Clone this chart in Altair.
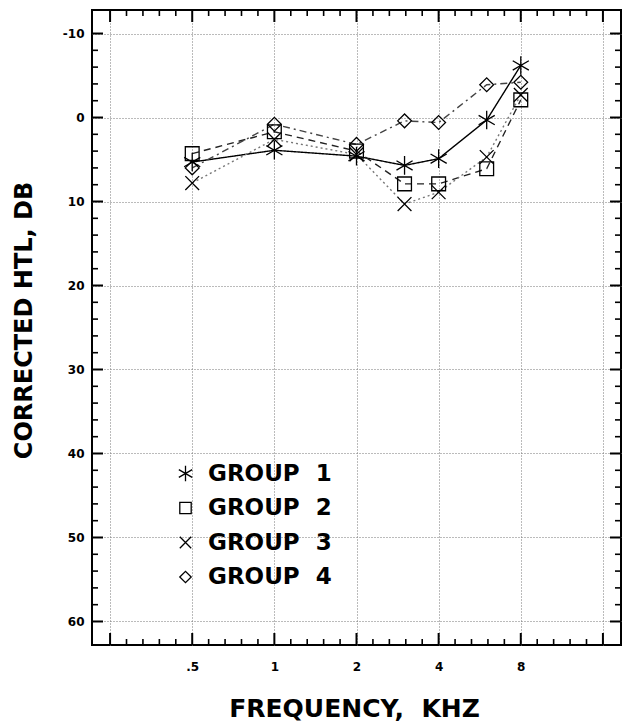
import altair as alt
import pandas as pd

# ---- data ----
freqs = [0.5, 1, 2, 3, 4, 6, 8]
groups = ["GROUP\u00a0\u00a01", "GROUP\u00a0\u00a02", "GROUP\u00a0\u00a03", "GROUP\u00a0\u00a04"]
group1 = [5.3, 3.9, 4.6, 5.7, 4.9, 0.3, -6.2]
group2 = [4.3, 1.7, 4.0, 7.9, 7.9, 6.1, -2.1]
group3 = [7.8, 2.6, 4.4, 10.3, 8.9, 4.7, -2.7]
group4 = [6.0, 0.8, 3.2, 0.4, 0.6, -3.9, -4.2]

x_grid = [0.25, 0.5, 1, 2, 4, 8, 16]
x_labels = {0.5: ".5", 1: "1", 2: "2", 4: "4", 8: "8"}
y_grid = [-10, 0, 10, 20, 30, 40, 50, 60]

rows = []
for g, vals in zip(groups, [group1, group2, group3, group4]):
    for f, v in zip(freqs, vals):
        rows.append({"group": g, "freq": f, "htl": v})
df = pd.DataFrame(rows)

# tick marks (major at octaves, 4 minor per octave equally spaced on log axis)
x_major = pd.DataFrame({"v": x_grid})
x_minor = pd.DataFrame({"v": [2 ** (k + i / 5) for k in range(-2, 4) for i in range(1, 5)]})
y_major = pd.DataFrame({"v": y_grid})
y_minor = pd.DataFrame({"v": [v for v in range(-10, 61, 2) if v % 10 != 0]})

W, H = 529, 635
FONT = "DejaVu Sans"

x_scale = alt.Scale(type="log", base=2, domain=[2 ** -2.22, 2 ** 4.22], nice=False)
y_scale = alt.Scale(domain=[-12.8, 62.8], reverse=True, nice=False, zero=False)

asterisk = "M0,-1.35L0,1.35M-1.17,-0.68L1.17,0.68M-1.17,0.68L1.17,-0.68"
xmark = "M-1,-1L1,1M-1,1L1,-1"

label_expr = " : ".join(
    [f"datum.value == {k} ? '{v}'" for k, v in x_labels.items()]
) + " : ''"

x_enc = alt.X(
    "freq:Q",
    scale=x_scale,
    axis=alt.Axis(
        values=x_grid,
        grid=True,
        gridDash=[1, 2],
        gridColor="#777",
        gridWidth=1,
        domain=False,
        ticks=False,
        labelExpr=label_expr,
        labelFont=FONT,
        labelFontWeight="bold",
        labelFontSize=12,
        labelPadding=16,
        labelColor="black",
        title="FREQUENCY,\u00a0\u00a0KHZ",
        titleFont=FONT,
        titleFontWeight="bold",
        titleFontSize=25,
        titleColor="black",
        titleBaseline="alphabetic",
        titleY=71,
        titleX=262,
    ),
)
y_enc = alt.Y(
    "htl:Q",
    scale=y_scale,
    axis=alt.Axis(
        values=y_grid,
        grid=True,
        gridDash=[1, 2],
        gridColor="#777",
        gridWidth=1,
        domain=False,
        ticks=False,
        labelExpr="'' + datum.value",
        labelFont=FONT,
        labelFontWeight="bold",
        labelFontSize=12,
        labelPadding=8,
        labelColor="black",
        title="CORRECTED HTL, DB",
        titleFont=FONT,
        titleFontWeight="bold",
        titleFontSize=24,
        titleColor="black",
        titleAngle=-90,
        titleBaseline="alphabetic",
        titleAlign="center",
        titleX=-61,
        titleY=310,
    ),
)

# color / dash scales take their (sorted) domain from the data so their legend
# is not merged with the explicit-domain shape legend
shape_scale = alt.Scale(domain=groups, range=[asterisk, "square", xmark, "diamond"])
dash_scale = alt.Scale(range=[[1, 0], [7, 5], [2, 3], [7, 4, 2, 4]])
color_scale = alt.Scale(range=["#000000", "#222222", "#777777", "#444444"])

lines = alt.Chart(df).mark_line(strokeWidth=1.4).encode(
    x=x_enc,
    y=y_enc,
    strokeDash=alt.StrokeDash("group:N", scale=dash_scale, legend=None),
    color=alt.Color("group:N", scale=color_scale, legend=None),
    detail="group:N",
)

points = alt.Chart(df).mark_point(filled=False, size=190, strokeWidth=1.3, color="black", opacity=1).encode(
    x="freq:Q",
    y="htl:Q",
    shape=alt.Shape(
        "group:N",
        scale=shape_scale,
        legend=alt.Legend(
            title=None,
            orient="none",
            legendX=82,
            legendY=452,
            labelFont=FONT,
            labelFontWeight="bold",
            labelFontSize=23,
            labelColor="black",
            labelOffset=11,
            labelLimit=300,
            rowPadding=10.5,
            symbolSize=130,
            symbolStrokeColor="black",
            symbolStrokeWidth=1.3,
        ),
    ),
)

def xticks(data, length, width):
    bottom = alt.Chart(data).mark_rule(color="black", strokeWidth=width).encode(
        x=alt.X("v:Q", scale=x_scale), y=alt.value(H), y2=alt.value(H - length)
    )
    top = alt.Chart(data).mark_rule(color="black", strokeWidth=width).encode(
        x=alt.X("v:Q", scale=x_scale), y=alt.value(0), y2=alt.value(length)
    )
    return bottom + top

def yticks(data, length, width):
    left = alt.Chart(data).mark_rule(color="black", strokeWidth=width).encode(
        y=alt.Y("v:Q", scale=y_scale), x=alt.value(0), x2=alt.value(length)
    )
    right = alt.Chart(data).mark_rule(color="black", strokeWidth=width).encode(
        y=alt.Y("v:Q", scale=y_scale), x=alt.value(W), x2=alt.value(W - length)
    )
    return left + right

chart = (
    alt.layer(
        lines,
        points,
        xticks(x_major, 12, 2),
        xticks(x_minor, 6, 1.6),
        yticks(y_major, 11, 2),
        yticks(y_minor, 6, 1.6),
    )
    .properties(
        width=W,
        height=H,
        autosize=alt.AutoSizeParams(type="none"),
        padding={"left": 92, "top": 10, "right": 2, "bottom": 78},
        background="white",
    )
    .configure_view(stroke="black", strokeWidth=2)
)

chart.save("out.html", embed_options={"renderer": "svg", "actions": False})
